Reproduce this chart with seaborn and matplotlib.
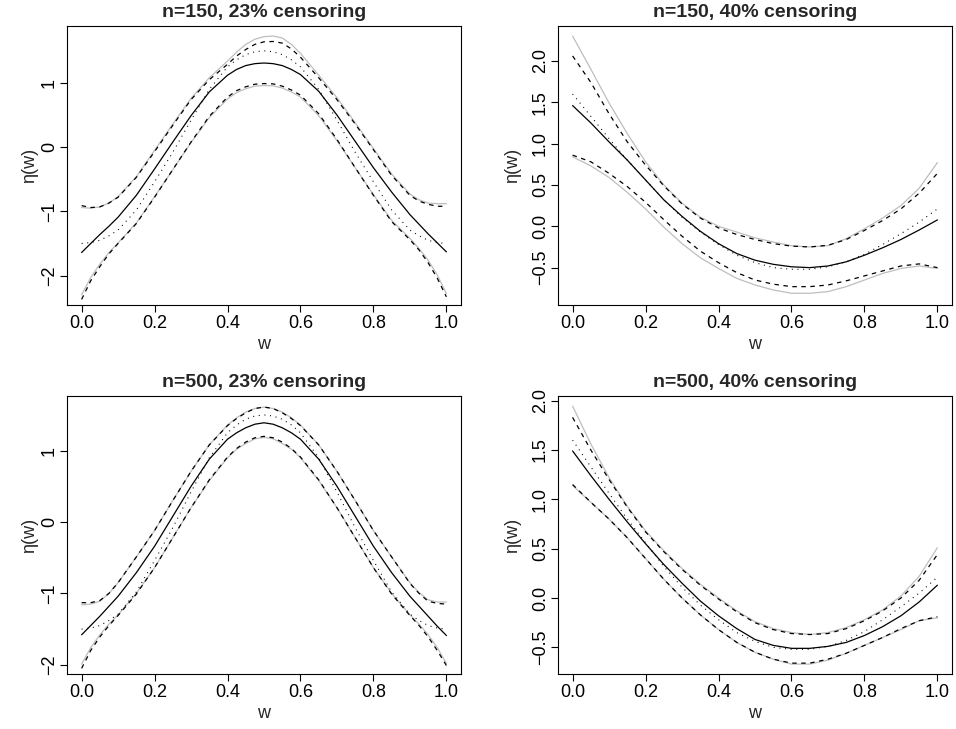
import numpy as np
import pandas as pd
import matplotlib
matplotlib.use("Agg")
import matplotlib.pyplot as plt
import seaborn as sns

# ---------------- data ----------------
# sampling positions: panels with the bump (n=..., 23% censoring)
w_a = [0.000, 0.025, 0.050, 0.075, 0.10, 0.15, 0.20, 0.25, 0.30, 0.35, 0.40,
       0.425, 0.450, 0.475, 0.50, 0.525, 0.550, 0.575, 0.60, 0.65, 0.70, 0.75,
       0.80, 0.85, 0.90, 0.925, 0.950, 0.975, 1.00]
# sampling positions: panels with the U shape (40% censoring)
w_b = [0.00, 0.05, 0.10, 0.15, 0.20, 0.25, 0.30, 0.35, 0.40, 0.45, 0.50,
       0.55, 0.60, 0.65, 0.70, 0.75, 0.80, 0.85, 0.90, 0.95, 1.00]

titles = ["n=150, 23% censoring", "n=150, 40% censoring",
          "n=500, 23% censoring", "n=500, 40% censoring"]

# true functions (dotted)
true_a = [-1.50, -1.485, -1.45, -1.38, -1.29, -0.98, -0.54, -0.08, 0.42, 0.90, 1.25,
          1.36, 1.44, 1.485, 1.50, 1.485, 1.44, 1.36, 1.25, 0.90, 0.42, -0.08,
          -0.54, -0.98, -1.29, -1.38, -1.45, -1.485, -1.50]
true_b = [1.60, 1.33, 1.06, 0.80, 0.56, 0.32, 0.11, -0.07, -0.22, -0.35, -0.44,
          -0.50, -0.52, -0.52, -0.49, -0.43, -0.34, -0.22, -0.09, 0.05, 0.21]

# panel 1: n=150, 23% censoring (solid = estimate, grey / dashed = bands)
est_1 = [-1.64, -1.50, -1.36, -1.23, -1.09, -0.75, -0.34, 0.08, 0.49, 0.86, 1.12,
         1.21, 1.27, 1.30, 1.31, 1.30, 1.27, 1.21, 1.13, 0.87, 0.50, 0.09,
         -0.32, -0.70, -1.05, -1.20, -1.35, -1.49, -1.63]
upg_1 = [-0.94, -0.95, -0.93, -0.87, -0.77, -0.46, -0.05, 0.36, 0.76, 1.08, 1.34,
         1.48, 1.60, 1.68, 1.72, 1.73, 1.70, 1.60, 1.46, 1.12, 0.77, 0.38,
         -0.02, -0.42, -0.73, -0.82, -0.87, -0.88, -0.88]
upd_1 = [-0.91, -0.94, -0.93, -0.87, -0.78, -0.47, -0.07, 0.34, 0.74, 1.05, 1.29,
         1.42, 1.52, 1.60, 1.64, 1.645, 1.62, 1.53, 1.40, 1.08, 0.74, 0.36,
         -0.04, -0.44, -0.75, -0.84, -0.89, -0.92, -0.92]
log_1 = [-2.30, -2.03, -1.82, -1.64, -1.49, -1.18, -0.77, -0.35, 0.07, 0.46, 0.75,
         0.85, 0.91, 0.95, 0.96, 0.955, 0.92, 0.86, 0.78, 0.49, 0.10, -0.32,
         -0.74, -1.14, -1.42, -1.58, -1.76, -1.99, -2.28]
lod_1 = [-2.37, -2.08, -1.86, -1.66, -1.50, -1.19, -0.78, -0.35, 0.08, 0.48, 0.78,
         0.88, 0.94, 0.98, 0.99, 0.985, 0.95, 0.89, 0.81, 0.52, 0.12, -0.32,
         -0.75, -1.16, -1.44, -1.60, -1.80, -2.04, -2.33]

# panel 2: n=150, 40% censoring
est_2 = [1.46, 1.25, 1.02, 0.80, 0.56, 0.32, 0.12, -0.06, -0.21, -0.33, -0.41,
         -0.46, -0.49, -0.50, -0.48, -0.43, -0.35, -0.26, -0.16, -0.045, 0.077]
upg_2 = [2.30, 1.90, 1.49, 1.12, 0.78, 0.50, 0.28, 0.11, 0.00, -0.07, -0.14,
         -0.19, -0.235, -0.25, -0.235, -0.15, -0.03, 0.10, 0.25, 0.46, 0.77]
upd_2 = [2.06, 1.74, 1.36, 1.02, 0.74, 0.49, 0.27, 0.10, -0.02, -0.10, -0.16,
         -0.21, -0.24, -0.25, -0.23, -0.16, -0.05, 0.07, 0.21, 0.40, 0.64]
log_2 = [0.84, 0.73, 0.59, 0.41, 0.21, -0.01, -0.21, -0.38, -0.51, -0.63, -0.71,
         -0.77, -0.81, -0.81, -0.79, -0.73, -0.65, -0.57, -0.51, -0.48, -0.51]
lod_2 = [0.86, 0.78, 0.64, 0.48, 0.29, 0.08, -0.12, -0.30, -0.44, -0.56, -0.65,
         -0.70, -0.73, -0.73, -0.71, -0.66, -0.60, -0.54, -0.48, -0.455, -0.50]

# panel 3: n=500, 23% censoring
est_3 = [-1.58, -1.45, -1.32, -1.18, -1.04, -0.71, -0.34, 0.08, 0.50, 0.88, 1.16,
         1.25, 1.32, 1.37, 1.39, 1.37, 1.32, 1.25, 1.16, 0.88, 0.50, 0.08,
         -0.34, -0.71, -1.04, -1.18, -1.32, -1.46, -1.59]
upg_3 = [-1.16, -1.15, -1.11, -1.00, -0.85, -0.49, -0.12, 0.30, 0.71, 1.08, 1.36,
         1.46, 1.54, 1.59, 1.61, 1.59, 1.54, 1.46, 1.36, 1.08, 0.71, 0.30,
         -0.12, -0.49, -0.85, -0.99, -1.09, -1.12, -1.12]
upd_3 = [-1.13, -1.13, -1.10, -1.00, -0.85, -0.49, -0.12, 0.30, 0.71, 1.08, 1.35,
         1.45, 1.53, 1.59, 1.61, 1.59, 1.53, 1.45, 1.35, 1.08, 0.71, 0.30,
         -0.12, -0.49, -0.86, -1.00, -1.11, -1.14, -1.15]
log_3 = [-1.99, -1.76, -1.58, -1.43, -1.30, -1.00, -0.64, -0.22, 0.20, 0.58, 0.90,
         1.02, 1.10, 1.165, 1.185, 1.165, 1.10, 1.02, 0.90, 0.58, 0.20, -0.22,
         -0.64, -1.00, -1.30, -1.43, -1.58, -1.76, -1.98]
lod_3 = [-2.05, -1.80, -1.61, -1.45, -1.31, -1.01, -0.64, -0.22, 0.20, 0.59, 0.91,
         1.03, 1.12, 1.18, 1.20, 1.18, 1.12, 1.03, 0.91, 0.59, 0.20, -0.22,
         -0.64, -1.01, -1.31, -1.45, -1.61, -1.80, -2.01]

# panel 4: n=500, 40% censoring
est_4 = [1.49, 1.24, 1.00, 0.77, 0.55, 0.34, 0.15, -0.03, -0.18, -0.31, -0.42,
         -0.48, -0.51, -0.51, -0.49, -0.45, -0.38, -0.29, -0.18, -0.04, 0.13]
upg_4 = [1.945, 1.56, 1.22, 0.93, 0.68, 0.48, 0.30, 0.14, 0.00, -0.13, -0.24,
         -0.31, -0.35, -0.37, -0.35, -0.30, -0.22, -0.12, 0.02, 0.22, 0.51]
upd_4 = [1.83, 1.50, 1.20, 0.92, 0.67, 0.47, 0.29, 0.13, -0.01, -0.14, -0.25,
         -0.32, -0.36, -0.37, -0.36, -0.31, -0.23, -0.13, 0.00, 0.18, 0.44]
log_4 = [1.14, 0.97, 0.80, 0.61, 0.40, 0.19, 0.00, -0.17, -0.32, -0.45, -0.55,
         -0.62, -0.67, -0.67, -0.63, -0.56, -0.48, -0.40, -0.32, -0.23, -0.20]
lod_4 = [1.15, 0.97, 0.80, 0.61, 0.40, 0.19, 0.00, -0.17, -0.32, -0.45, -0.55,
         -0.62, -0.66, -0.66, -0.62, -0.56, -0.48, -0.40, -0.31, -0.23, -0.19]

x_ticks = [0.0, 0.2, 0.4, 0.6, 0.8, 1.0]
y_ticks_a = [-2, -1, 0, 1]
y_ticks_b = [-0.5, 0.0, 0.5, 1.0, 1.5, 2.0]

panels = [
    dict(title=titles[0], w=w_a, est=est_1, true=true_a, upg=upg_1, upd=upd_1,
         log=log_1, lod=lod_1, yt=y_ticks_a, fmt="{:.0f}"),
    dict(title=titles[1], w=w_b, est=est_2, true=true_b, upg=upg_2, upd=upd_2,
         log=log_2, lod=lod_2, yt=y_ticks_b, fmt="{:.1f}"),
    dict(title=titles[2], w=w_a, est=est_3, true=true_a, upg=upg_3, upd=upd_3,
         log=log_3, lod=lod_3, yt=y_ticks_a, fmt="{:.0f}"),
    dict(title=titles[3], w=w_b, est=est_4, true=true_b, upg=upg_4, upd=upd_4,
         log=log_4, lod=lod_4, yt=y_ticks_b, fmt="{:.1f}"),
]

# ---------------- layout / style ----------------
sns.set_theme(style="ticks")
plt.rcParams["font.family"] = ["Liberation Sans", "DejaVu Sans"]
plt.rcParams["axes.linewidth"] = 0.8
plt.rcParams["lines.scale_dashes"] = True
plt.rcParams["lines.solid_joinstyle"] = "round"
plt.rcParams["lines.dash_joinstyle"] = "round"

W, H = 956, 729
fig = plt.figure(figsize=(W / 100, H / 100), dpi=100)

# axes boxes in pixel coordinates (left, top, right, bottom)
boxes = [(67, 26, 461, 305), (558, 26, 952, 305),
         (67, 396, 461, 674), (558, 396, 952, 674)]
ylims = [(-2.457, 1.886), (-0.952, 2.422), (-2.129, 1.765), (-0.770, 2.047)]
ylab_x = [-0.074, -0.094, -0.074, -0.094]

GRAY = "#BEBEBE"
LW = 0.9

for p, box, yl, ylx in zip(panels, boxes, ylims, ylab_x):
    l, t, r, b = box
    ax = fig.add_axes([l / W, 1 - b / H, (r - l) / W, (b - t) / H])
    df = pd.DataFrame({"w": p["w"], "est": p["est"], "true": p["true"],
                       "upg": p["upg"], "upd": p["upd"], "log": p["log"], "lod": p["lod"]})
    common = dict(ax=ax, estimator=None, errorbar=None, sort=False, legend=False)
    sns.lineplot(data=df, x="w", y="upg", color=GRAY, linewidth=LW, **common)
    sns.lineplot(data=df, x="w", y="log", color=GRAY, linewidth=LW, **common)
    sns.lineplot(data=df, x="w", y="upd", color="black", linewidth=LW,
                 linestyle=(0, (3.6, 3.6)), **common)
    sns.lineplot(data=df, x="w", y="lod", color="black", linewidth=LW,
                 linestyle=(0, (3.6, 3.6)), **common)
    sns.lineplot(data=df, x="w", y="true", color="black", linewidth=0.8,
                 linestyle=(0, (0.9, 4.2)), **common)
    sns.lineplot(data=df, x="w", y="est", color="black", linewidth=LW, **common)

    ax.set_xlim(-0.04, 1.04)
    ax.set_ylim(*yl)
    ax.set_xticks(x_ticks)
    ax.set_xticklabels([f"{v:.1f}" for v in x_ticks])
    ax.set_yticks(p["yt"])
    ax.set_yticklabels([p["fmt"].format(v).replace("-", "\u2212") for v in p["yt"]],
                       rotation=90, va="center")
    ax.tick_params(axis="both", direction="out", length=5, width=0.8,
                   labelsize=13, colors="black")
    ax.tick_params(axis="x", pad=2.5)
    ax.tick_params(axis="y", pad=1.5)
    for s in ax.spines.values():
        s.set_visible(True)
        s.set_color("black")
        s.set_linewidth(0.8)
    ax.set_xlabel("w", fontsize=13)
    ax.set_ylabel("\u03b7(w)", fontsize=13)
    ax.xaxis.set_label_coords(0.5, -0.111)
    ax.yaxis.set_label_coords(ylx, 0.5)
    ax.set_title(p["title"], fontsize=14, fontweight="bold", pad=6.8)

fig.savefig("out.png", dpi=100)
